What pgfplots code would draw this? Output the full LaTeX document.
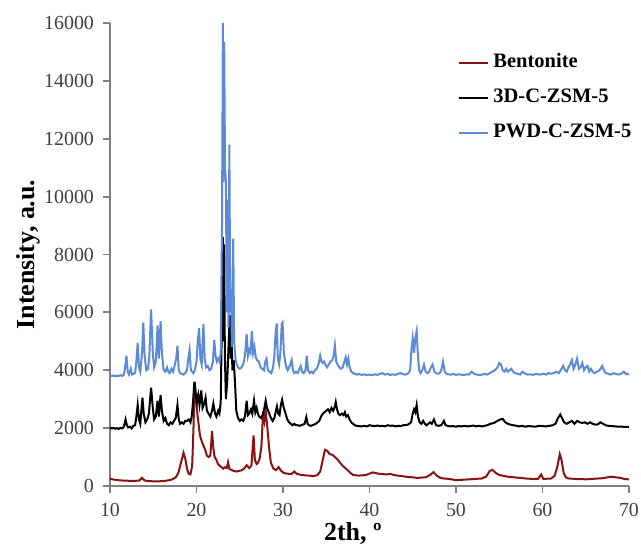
\documentclass[border=0pt]{standalone}
\usepackage{pgfplots}
\pgfplotsset{compat=1.18}
\usepackage{pgfplotstable}
\usepackage{fontspec}
\setmainfont{Liberation Serif}

\definecolor{bentred}{RGB}{139,18,18}
\definecolor{pwdblue}{RGB}{92,138,216}
\definecolor{axisgray}{RGB}{128,128,128}
\definecolor{ticktext}{RGB}{64,64,64}

% XRD pattern of the raw bentonite
\pgfplotstableread{
x y
10.0 250
10.3 230
10.6 215
11.0 200
11.4 190
11.8 185
12.2 180
12.6 175
13.0 180
13.4 190
13.7 280
14.0 190
14.4 170
14.8 165
15.2 160
15.6 160
16.0 170
16.4 180
16.8 200
17.2 230
17.6 300
17.9 450
18.2 800
18.5 1150
18.7 950
18.9 600
19.1 420
19.3 400
19.5 700
19.65 2000
19.8 3600
19.95 3000
20.1 2500
20.4 1750
20.6 1550
20.8 1400
21.0 1250
21.2 1050
21.4 1000
21.6 1050
21.8 1900
21.95 1300
22.1 1000
22.3 900
22.5 750
22.7 700
22.9 650
23.1 600
23.3 650
23.5 620
23.65 820
23.8 600
24.0 560
24.3 520
24.6 500
24.9 520
25.2 540
25.5 600
25.8 720
26.1 620
26.35 700
26.6 1750
26.75 900
26.95 760
27.1 800
27.3 950
27.5 1350
27.7 2550
27.85 2250
28.0 2600
28.2 2000
28.4 1300
28.6 800
28.9 600
29.2 550
29.5 650
29.8 520
30.1 450
30.4 430
30.7 420
31.0 420
31.3 500
31.6 420
32.0 390
32.5 370
33.0 360
33.5 340
34.0 380
34.3 500
34.6 900
34.85 1250
35.1 1220
35.4 1100
35.7 1080
36.0 1000
36.3 920
36.6 800
36.9 700
37.2 620
37.5 540
37.8 450
38.1 380
38.4 370
38.8 360
39.2 370
39.6 380
40.0 430
40.4 470
40.8 440
41.2 420
41.6 410
42.0 400
42.4 420
42.8 380
43.2 360
43.6 350
44.0 330
44.5 310
45.0 300
45.5 280
46.0 290
46.5 300
47.0 380
47.4 480
47.8 350
48.2 280
48.6 260
49.0 250
49.5 230
50.0 200
50.5 210
51.0 220
51.5 230
52.0 240
52.5 250
53.0 260
53.5 330
53.9 520
54.2 560
54.6 450
55.0 380
55.5 350
56.0 320
56.5 310
57.0 290
57.5 280
58.0 260
58.5 250
59.0 240
59.5 250
59.85 400
60.1 250
60.5 250
61.0 260
61.4 350
61.7 650
62.0 1100
62.2 900
62.45 450
62.7 300
63.0 260
63.5 250
64.0 240
64.5 240
65.0 230
65.5 240
66.0 250
66.5 260
67.0 270
67.5 300
68.0 320
68.5 300
69.0 280
69.5 240
70.0 230
}\bentonite

% XRD pattern of the 3D-printed ZSM-5 monolith
\pgfplotstableread{
x y
10.0 2020
10.2 1990
10.4 2010
10.6 1980
10.8 2000
11.0 1970
11.2 2010
11.4 1990
11.6 2040
11.8 2300
11.95 2100
12.1 2020
12.3 2050
12.5 1990
12.7 2080
12.9 2100
13.05 2400
13.2 2800
13.35 2300
13.5 2150
13.75 3050
13.9 2500
14.1 2200
14.3 2300
14.5 2500
14.75 3400
14.95 2700
15.1 2300
15.3 2400
15.5 2950
15.65 2400
15.85 3150
16.0 2600
16.2 2250
16.4 2350
16.6 2150
16.8 2100
17.0 2200
17.2 2150
17.4 2250
17.6 2350
17.8 2800
17.95 2300
18.1 2150
18.3 2200
18.5 2150
18.7 2250
18.9 2250
19.1 2300
19.3 2200
19.45 2400
19.6 2900
19.75 3600
19.9 3200
20.05 2900
20.2 3150
20.35 2800
20.55 3300
20.7 2700
20.9 2850
21.05 3050
21.2 2600
21.4 2500
21.6 2400
21.8 2600
21.95 2850
22.15 2500
22.3 2400
22.5 2600
22.65 2500
22.8 2900
22.95 6000
23.05 8600
23.12 5000
23.2 8350
23.28 4500
23.4 3000
23.55 3600
23.7 4800
23.85 5900
23.95 4400
24.05 5200
24.15 4000
24.3 4350
24.45 3600
24.6 2600
24.8 2350
25.0 2250
25.2 2300
25.4 2250
25.6 2400
25.8 2950
25.95 2450
26.1 2500
26.3 2650
26.45 2500
26.65 2950
26.8 2550
26.95 2700
27.1 2500
27.25 2400
27.45 2350
27.65 2450
27.85 2700
28.0 2950
28.15 2700
28.35 2550
28.6 2350
28.8 2250
29.0 2350
29.15 2550
29.3 2750
29.45 2500
29.6 2450
29.75 2800
29.9 2980
30.05 2750
30.3 2500
30.5 2300
30.7 2200
30.9 2150
31.1 2100
31.3 2150
31.5 2100
31.7 2100
31.9 2080
32.1 2100
32.3 2120
32.5 2150
32.7 2380
32.85 2150
33.0 2100
33.2 2080
33.4 2100
33.6 2120
33.8 2150
34.0 2200
34.2 2250
34.4 2400
34.6 2500
34.8 2550
35.0 2600
35.2 2650
35.4 2550
35.6 2700
35.8 2600
36.0 2750
36.1 2900
36.25 2650
36.4 2500
36.6 2450
36.8 2500
37.0 2450
37.15 2550
37.3 2400
37.5 2450
37.7 2300
37.9 2200
38.1 2150
38.3 2100
38.5 2080
38.8 2070
39.1 2060
39.4 2080
39.7 2060
40.0 2100
40.3 2080
40.6 2070
40.9 2090
41.2 2070
41.5 2080
41.8 2060
42.1 2100
42.4 2080
42.7 2090
43.0 2060
43.3 2080
43.6 2070
43.9 2100
44.2 2100
44.5 2130
44.8 2200
45.0 2500
45.15 2650
45.3 2550
45.45 2800
45.6 2400
45.8 2200
46.0 2150
46.2 2250
46.4 2150
46.6 2100
46.8 2150
47.0 2200
47.2 2150
47.45 2300
47.7 2100
48.0 2080
48.3 2100
48.6 2250
48.8 2100
49.0 2080
49.3 2060
49.6 2070
50.0 2050
50.3 2070
50.6 2060
51.0 2080
51.3 2060
51.6 2070
52.0 2090
52.3 2060
52.6 2080
53.0 2060
53.3 2080
53.6 2100
54.0 2150
54.4 2180
54.8 2250
55.1 2300
55.4 2320
55.7 2200
56.0 2150
56.3 2120
56.6 2100
57.0 2080
57.3 2060
57.6 2080
58.0 2050
58.4 2070
58.8 2060
59.2 2050
59.6 2080
60.0 2070
60.4 2060
60.8 2080
61.2 2100
61.5 2150
61.8 2350
62.05 2470
62.25 2350
62.5 2200
62.8 2150
63.1 2200
63.4 2250
63.7 2150
64.0 2250
64.3 2200
64.6 2180
64.9 2200
65.2 2150
65.5 2200
65.8 2150
66.1 2120
66.4 2130
66.7 2200
67.0 2150
67.3 2100
67.6 2080
68.0 2070
68.4 2060
68.8 2050
69.2 2050
69.6 2040
70.0 2040
}\threed

% XRD pattern of the powder ZSM-5 catalyst
\pgfplotstableread{
x y
10.0 3830
10.2 3800
10.4 3820
10.6 3790
10.8 3810
11.0 3800
11.2 3830
11.4 3800
11.6 3850
11.75 4100
11.9 4500
12.05 3950
12.2 3850
12.4 4050
12.55 3850
12.7 3870
12.9 3900
13.05 4300
13.2 4950
13.35 4100
13.5 3950
13.7 4600
13.85 5650
14.0 4500
14.2 4000
14.4 4050
14.55 4500
14.75 6100
14.95 4600
15.1 4100
15.3 4300
15.5 5550
15.65 4400
15.85 5700
16.0 4600
16.2 4000
16.4 3950
16.6 4100
16.75 3950
16.9 3900
17.1 4050
17.3 3950
17.5 4200
17.65 4400
17.8 4850
17.95 4000
18.1 3900
18.3 3880
18.5 3850
18.7 3900
18.9 4000
19.05 4400
19.2 4700
19.35 4000
19.5 3950
19.65 3900
19.8 4000
20.0 4300
20.15 5000
20.3 5450
20.45 4400
20.6 4200
20.8 5600
20.95 4400
21.1 4100
21.3 4150
21.5 4000
21.7 4050
21.9 4300
22.05 5050
22.2 4500
22.35 4300
22.5 4400
22.65 4300
22.8 4600
22.95 9000
23.05 16000
23.12 10500
23.2 15350
23.3 11000
23.4 10500
23.5 6000
23.6 9900
23.7 5500
23.8 11800
23.9 6000
24.0 6800
24.1 4800
24.25 8550
24.35 5000
24.5 4400
24.65 4200
24.8 4100
25.0 4050
25.2 4100
25.4 4200
25.6 4500
25.8 5250
25.95 4500
26.1 4700
26.25 4600
26.4 5350
26.55 4600
26.7 4800
26.85 4450
27.0 4350
27.2 4300
27.4 4100
27.6 4050
27.8 4000
27.95 4300
28.1 4400
28.25 4000
28.45 3950
28.65 3900
28.85 4100
29.0 4500
29.15 5300
29.28 5620
29.4 4400
29.55 4200
29.7 4600
29.85 5600
29.95 5650
30.1 4600
30.25 4300
30.4 4100
30.55 4000
30.7 4100
30.85 4200
31.0 4350
31.15 4000
31.3 3900
31.5 3950
31.7 3900
31.9 4050
32.05 4150
32.2 3950
32.4 3900
32.6 4000
32.75 4500
32.9 4000
33.1 3900
33.3 3950
33.5 3900
33.7 4000
33.9 4050
34.1 4200
34.3 4500
34.45 4300
34.6 4250
34.75 4300
34.9 4200
35.1 4100
35.3 4200
35.5 4300
35.7 4350
35.85 4500
36.0 4850
36.15 4300
36.3 4200
36.5 4100
36.7 4050
36.9 4100
37.1 4300
37.25 4450
37.4 4200
37.55 4400
37.7 4100
37.9 3950
38.1 3900
38.3 3880
38.5 3850
38.8 3870
39.1 3840
39.4 3860
39.7 3830
40.0 3850
40.3 3830
40.6 3860
40.9 3840
41.2 3870
41.5 3900
41.8 3850
42.1 3870
42.4 3840
42.7 3860
43.0 3840
43.3 3880
43.6 3900
43.9 3860
44.2 3850
44.5 3900
44.7 4000
44.85 4700
45.0 5100
45.15 4600
45.3 5100
45.45 5350
45.6 4500
45.75 4000
45.9 3900
46.1 4000
46.3 4200
46.5 3950
46.7 3900
46.9 3950
47.1 4100
47.3 4200
47.5 3950
47.7 3900
47.9 3880
48.1 3900
48.3 4000
48.5 4300
48.7 3950
48.9 3880
49.1 3860
49.4 3850
49.7 3870
50.0 3840
50.3 3860
50.6 3850
50.9 3830
51.2 3860
51.5 3850
51.8 3950
52.1 3880
52.4 3850
52.7 3830
53.0 3850
53.3 3870
53.6 3850
53.9 3900
54.2 3950
54.5 4000
54.8 4100
55.0 4250
55.2 4200
55.4 4000
55.6 3950
55.8 4050
56.0 3950
56.2 4000
56.4 4050
56.6 3950
56.8 3900
57.1 3880
57.4 3850
57.7 3950
58.0 3880
58.3 3850
58.6 3860
58.9 3840
59.2 3870
59.5 3860
59.8 3850
60.1 3880
60.4 3850
60.7 3900
61.0 3880
61.3 3900
61.6 3950
61.9 3900
62.2 4050
62.4 4150
62.6 4000
62.8 3950
63.0 4100
63.2 4200
63.4 4350
63.6 4050
63.8 4200
64.0 4400
64.2 4050
64.4 4100
64.6 4250
64.8 4000
65.0 4100
65.2 4150
65.4 3950
65.6 4050
65.8 3950
66.0 3900
66.3 3950
66.6 4000
66.9 4150
67.1 4000
67.3 3900
67.6 3880
67.9 3850
68.2 3900
68.5 3870
68.8 3850
69.1 3880
69.4 3950
69.7 3860
70.0 3870
}\pwd

\begin{document}
\begin{tikzpicture}
\path[use as bounding box] (-55bp,-31bp) rectangle (265.5bp,243bp);
\begin{axis}[
  at={(0,0)}, anchor=south west,
  scale only axis,
  width=259.5bp, height=231.5bp,
  xmin=10, xmax=70, ymin=0, ymax=16000,
  xtick={10,20,...,70},
  ytick={0,2000,...,16000},
  scaled y ticks=false,
  minor tick num=0,
  axis x line=bottom, axis y line=left,
  axis line style={-, draw=axisgray, line width=0.9bp},
  tick style={draw=axisgray, line width=0.9bp},
  tick align=outside,
  major tick length=3.5bp,
  clip=false,
  /pgf/number format/assume math mode=true,
  /pgf/number format/1000 sep={},
  ticklabel style={font=\fontsize{10}{12}\selectfont, text=ticktext},
  xticklabel style={yshift=-1.5bp},
  yticklabel style={xshift=-1bp},
  xlabel={\textbf{2th, º}},
  ylabel={\textbf{Intensity, a.u.}},
  label style={font=\fontsize{13}{15}\selectfont},
  xlabel style={at={(axis description cs:0.468,0)}, anchor=center, yshift=-24bp},
  ylabel style={at={(axis description cs:-0.157,0.5)}, anchor=center, rotate=0},
  legend style={
    at={(axis description cs:0.6705,0.839)}, anchor=west,
    draw=none, fill=none, inner sep=0pt,
    font=\fontsize{10.3}{12}\selectfont\bfseries,
    row sep=7.5bp, column sep=2bp,
    nodes={inner sep=0pt, text height=7.5bp, text depth=2.5bp},
  },
  legend cell align=left,
  legend image code/.code={\draw[#1] (0bp,0bp) -- (14.5bp,0bp);},
]
\addplot[bentred, line width=1bp] table {\bentonite};
\addlegendentry{Bentonite}
\addplot[black, line width=1bp] table {\threed};
\addlegendentry{3D-C-ZSM-5}
\addplot[pwdblue, line width=1bp] table {\pwd};
\addlegendentry{PWD-C-ZSM-5}
\end{axis}
\end{tikzpicture}
\end{document}
